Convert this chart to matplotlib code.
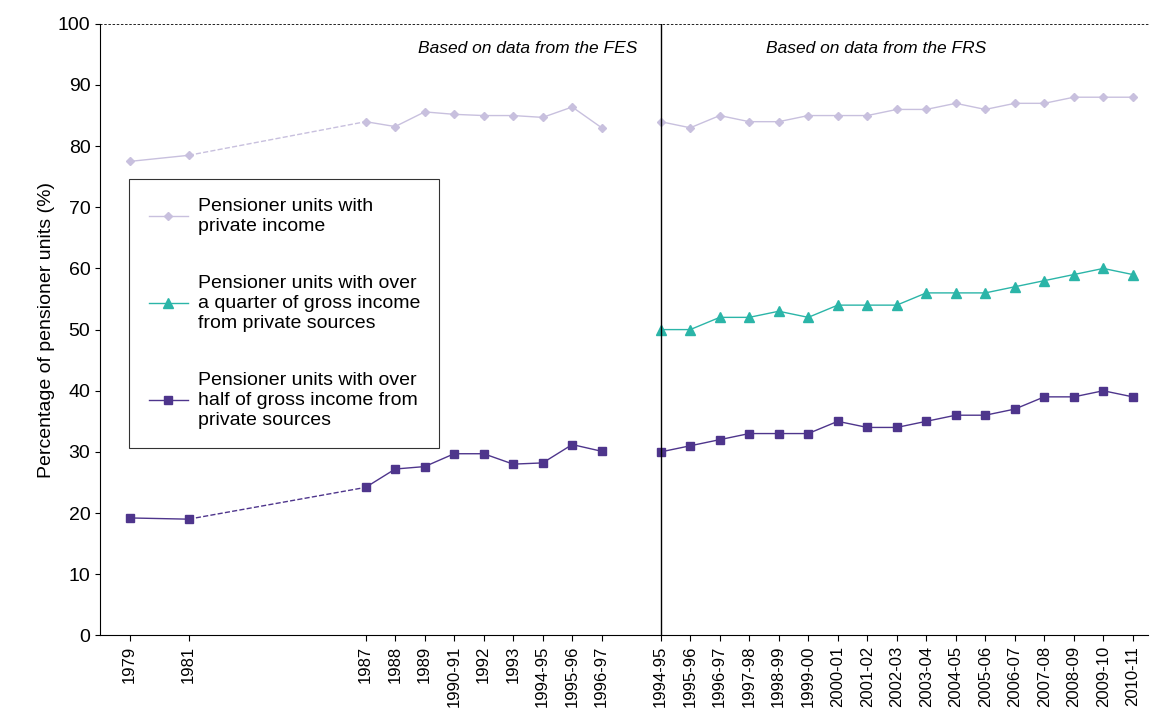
import matplotlib
matplotlib.use("Agg")
import matplotlib.pyplot as plt

fes_labels = ["1979", "1981", "1987", "1988", "1989", "1990-91", "1992", "1993", "1994-95", "1995-96", "1996-97"]
fes_pos = [0, 2, 8, 9, 10, 11, 12, 13, 14, 15, 16]
frs_labels = ["1994-95", "1995-96", "1996-97", "1997-98", "1998-99", "1999-00", "2000-01", "2001-02",
              "2002-03", "2003-04", "2004-05", "2005-06", "2006-07", "2007-08", "2008-09", "2009-10", "2010-11"]
frs_pos = list(range(18, 35))

fes_private = [77.5, 78.5, 84, 83.2, 85.6, 85.2, 85, 85, 84.7, 86.4, 83]
fes_half = [19.2, 19, 24.2, 27.2, 27.6, 29.7, 29.7, 28, 28.2, 31.2, 30.1]
frs_private = [84, 83, 85, 84, 84, 85, 85, 85, 86, 86, 87, 86, 87, 87, 88, 88, 88]
frs_quarter = [50, 50, 52, 52, 53, 52, 54, 54, 54, 56, 56, 56, 57, 58, 59, 60, 59]
frs_half = [30, 31, 32, 33, 33, 33, 35, 34, 34, 35, 36, 36, 37, 39, 39, 40, 39]

c_priv = "#c8c0de"
c_quart = "#2bb5a8"
c_half = "#4e358c"

plt.rcParams["font.family"] = ["Liberation Sans", "DejaVu Sans"]
fig = plt.figure(figsize=(11.51, 7.22), dpi=100)
ax = fig.add_axes([0.087, 0.12, 0.91, 0.847])

def plot_series(pos, vals, color, marker, ms, label=None):
    # solid except the gap between 1981 and 1987, which is dashed
    if pos[0] == 0:
        ax.plot(pos[:2], vals[:2], color=color, marker=marker, ms=ms, lw=1)
        ax.plot(pos[1:3], vals[1:3], color=color, ls="--", lw=1)
        ax.plot(pos[2:], vals[2:], color=color, marker=marker, ms=ms, lw=1)
    else:
        ax.plot(pos, vals, color=color, marker=marker, ms=ms, lw=1, label=label)

plot_series(fes_pos, fes_private, c_priv, "D", 4)
plot_series(fes_pos, fes_half, c_half, "s", 6)
plot_series(frs_pos, frs_private, c_priv, "D", 4, "Pensioner units with\nprivate income")
plot_series(frs_pos, frs_quarter, c_quart, "^", 7,
            "Pensioner units with over\na quarter of gross income\nfrom private sources")
plot_series(frs_pos, frs_half, c_half, "s", 6,
            "Pensioner units with over\nhalf of gross income from\nprivate sources")

ax.axvline(18, color="black", lw=1)
ax.set_xlim(-1, 34.5)
ax.set_ylim(0, 100)
ax.set_yticks(range(0, 101, 10))
ax.set_xticks(fes_pos + frs_pos)
ax.set_xticklabels(fes_labels + frs_labels, rotation=90, fontsize=12)
ax.tick_params(axis="y", labelsize=14)
ax.tick_params(axis="x", direction="out", length=4)
ax.set_ylabel("Percentage of pensioner units (%)", fontsize=14, labelpad=2)
ax.spines["top"].set_linestyle((0, (2, 3)))
ax.spines["top"].set_linewidth(0.6)
ax.spines["right"].set_visible(False)

ax.text(17.2, 96, "Based on data from the FES", ha="right", va="center", fontsize=12.5, style="italic")
ax.text(25.3, 96, "Based on data from the FRS", ha="center", va="center", fontsize=12.5, style="italic")

leg = ax.legend(loc="upper left", bbox_to_anchor=(0.028, 0.747), fontsize=14, frameon=True,
                fancybox=False, edgecolor="black", labelspacing=2.1, handlelength=2.0,
                handletextpad=0.5, borderpad=1.0, borderaxespad=0)
leg.get_frame().set_linewidth(0.8)

fig.savefig("out.png", dpi=100)
